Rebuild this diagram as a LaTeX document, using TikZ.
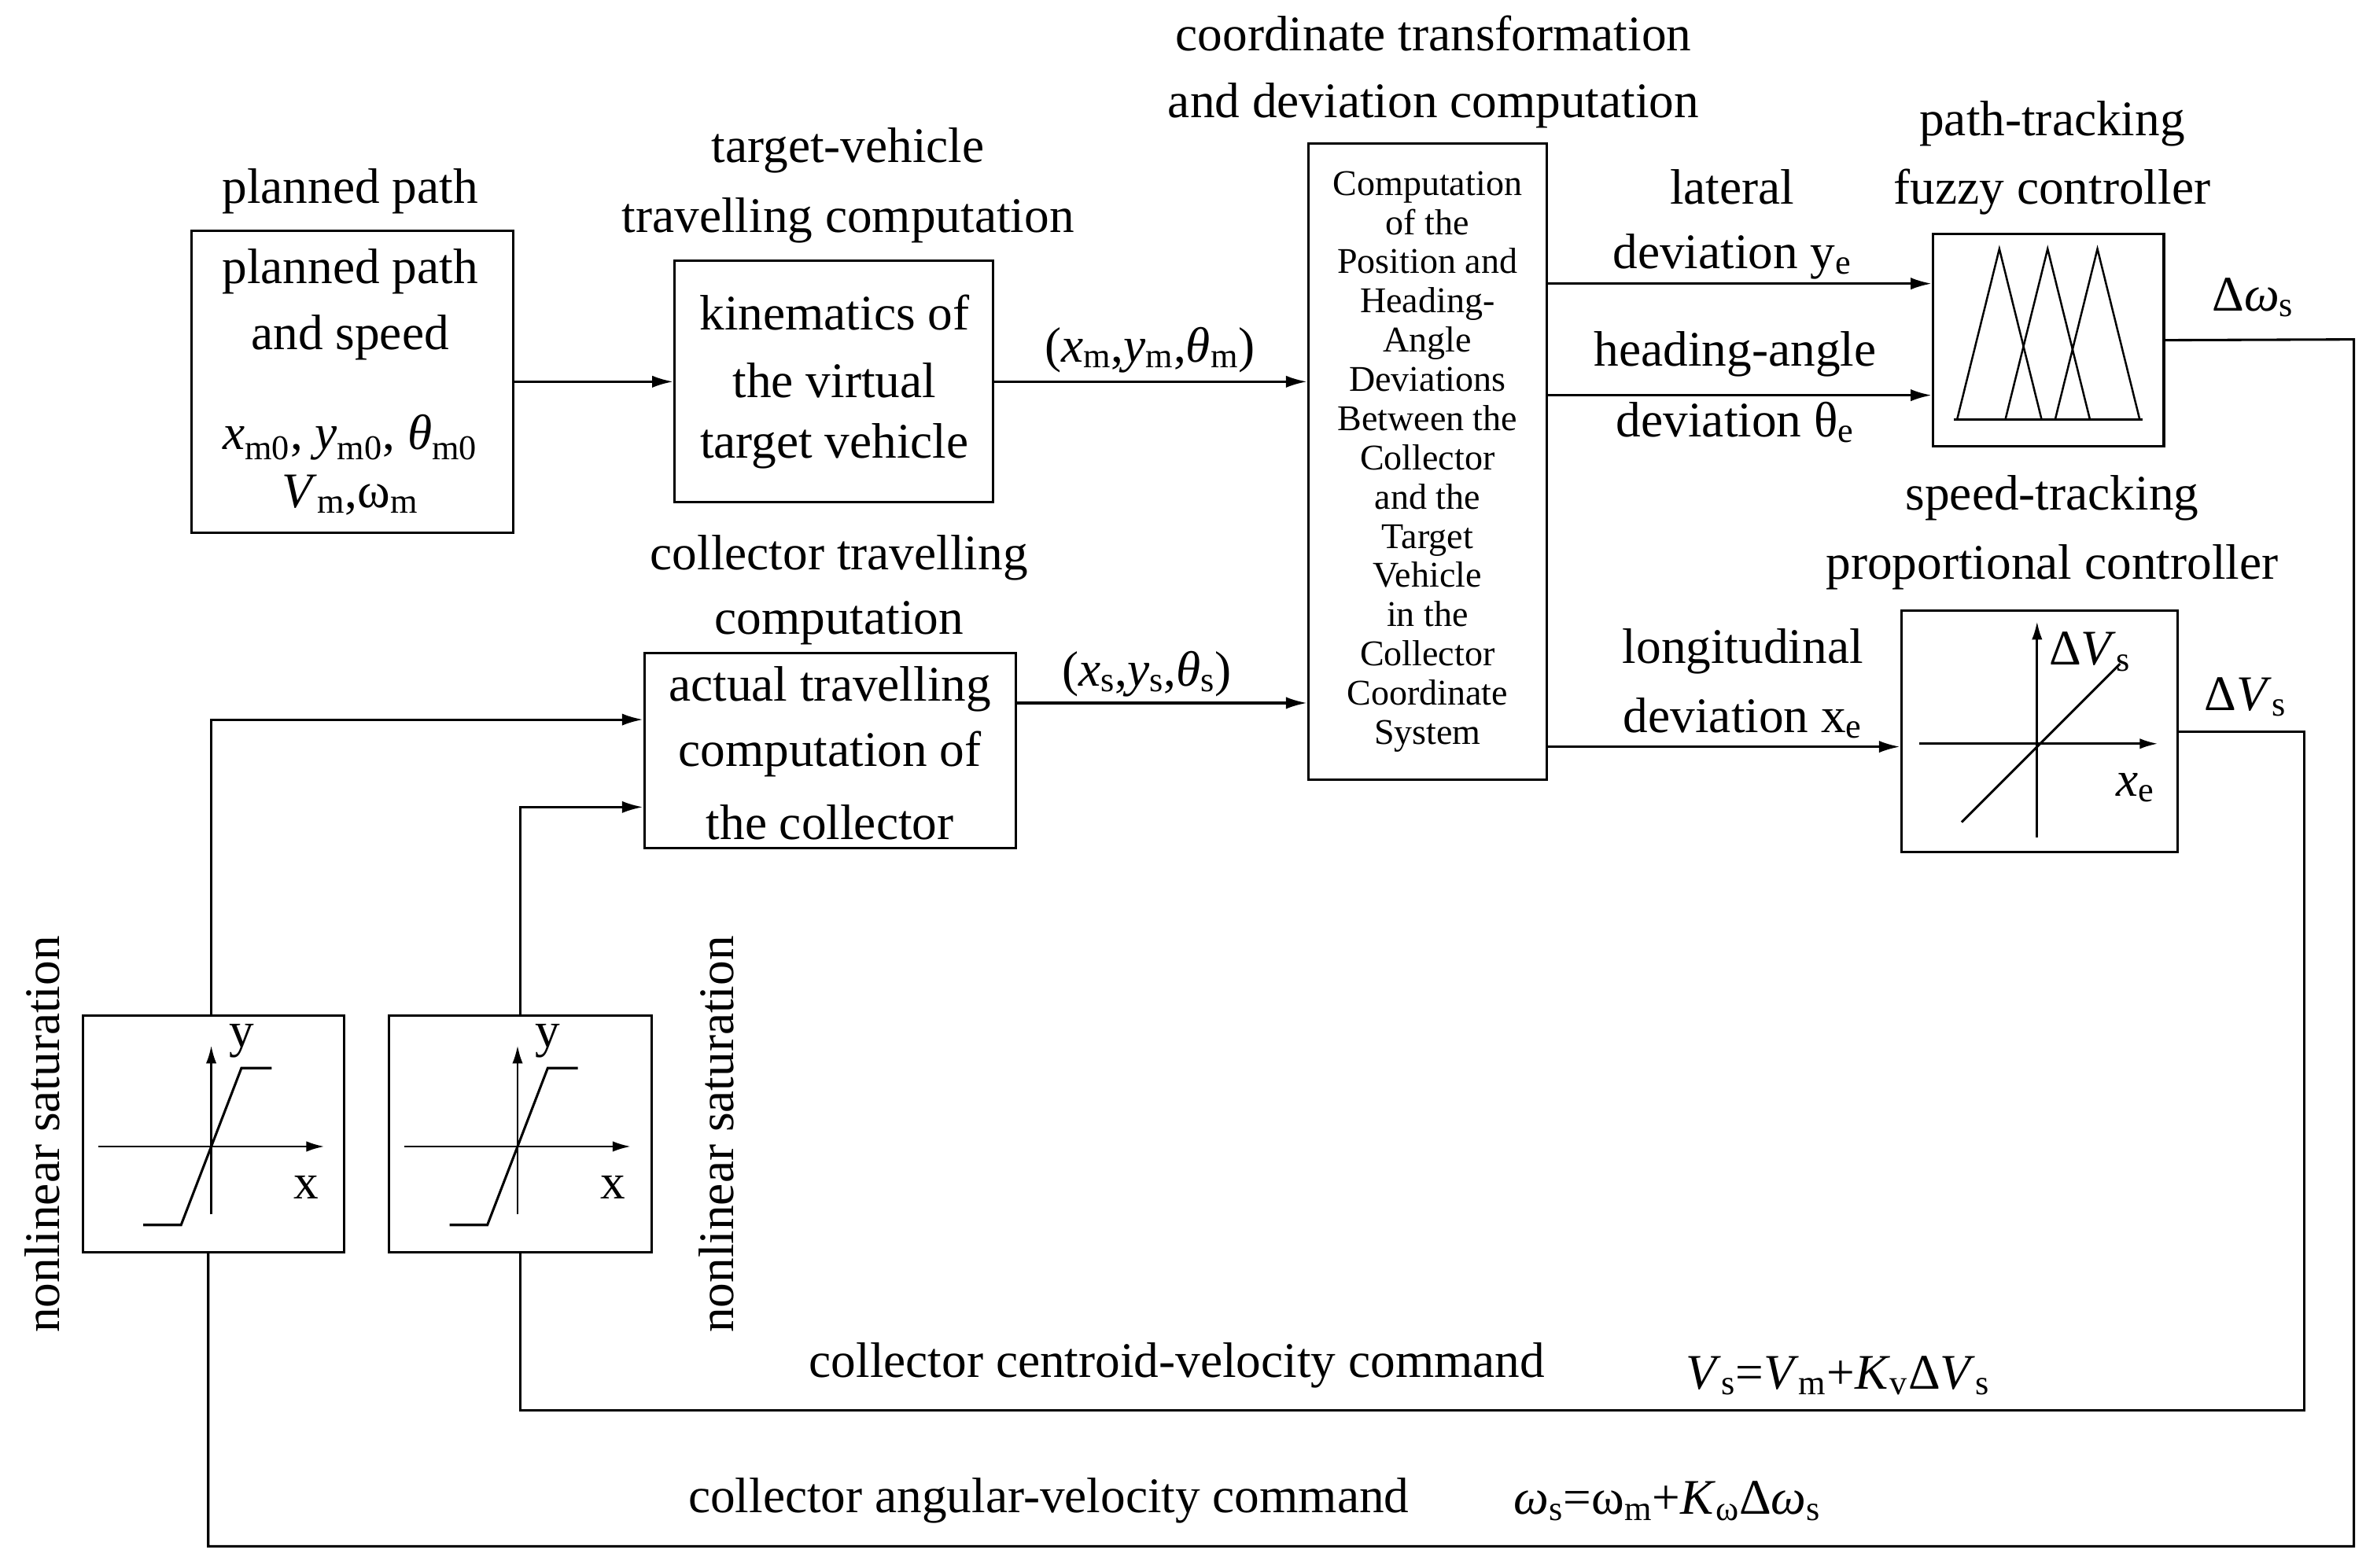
\documentclass[tikz,border=0pt]{standalone}
\usepackage{fontspec}
\setmainfont{Liberation Serif}
\usetikzlibrary{arrows.meta}
\newcommand{\lo}[1]{\textsubscript{#1}}
\begin{document}
\begin{tikzpicture}[x=1pt,y=-1pt,
  box/.style={draw,line width=1.6pt,inner sep=0pt},
  ln/.style={line width=1.6pt},
  arr/.style={line width=1.6pt,-{Latex[length=14pt,width=8pt]}},
  ax/.style={line width=1.4pt,-{Latex[length=12pt,width=7pt]}},
  t/.style={font=\fontsize{33}{37}\selectfont,inner sep=0pt},
  s/.style={font=\fontsize{24}{26}\selectfont,inner sep=0pt,align=center}]
\useasboundingbox (0,0) rectangle (1568,1039);
% boxes
\node[box,minimum width=213pt,minimum height=200pt] (b1) at (233.5,253) {};
\node[box,minimum width=211pt,minimum height=160pt] (b2) at (552.5,253) {};
\node[box,minimum width=158pt,minimum height=422pt] (b3) at (946,306) {};
\node[box,minimum width=153pt,minimum height=141pt] (fz) at (1357.5,225.5) {};
\node[box,minimum width=183pt,minimum height=160pt] (sp) at (1351.5,485) {};
\node[box,minimum width=246pt,minimum height=129pt] (bc) at (550,497.5) {};
\node[box,minimum width=173pt,minimum height=157pt] (s1) at (141.5,751.5) {};
\node[box,minimum width=174pt,minimum height=157pt] (s2) at (345,751.5) {};
% titles
\node[t] at (232,127) {planned path};
\node[t] at (562,100) {target-vehicle};
\node[t] at (562,146) {travelling computation};
\node[t] at (950,22) {coordinate transformation};
\node[t] at (950,70) {and deviation computation};
\node[t] at (1360,82) {path-tracking};
\node[t] at (1360,127) {fuzzy controller};
\node[t] at (1360,330) {speed-tracking};
\node[t] at (1360,376) {proportional controller};
\node[t] at (556,370) {collector travelling};
\node[t] at (556,413) {computation};
% box texts
\node[t] at (232,180) {planned path};
\node[t] at (232,224) {and speed};
\node[t] at (232,290) {\textit{x}\lo{m0}, \textit{y}\lo{m0}, \textit{θ}\lo{m0}};
\node[t] at (232,328) {\textit{V}\lo{m},ω\lo{m}};
\node[t] at (553,207) {kinematics of};
\node[t] at (553,252) {the virtual};
\node[t] at (553,296) {target vehicle};
\node[t] at (550,457) {actual travelling};
\node[t] at (550,500) {computation of};
\node[t] at (550,545) {the collector};
\node[s] at (946,306) {Computation\\of the\\Position and\\Heading-\\Angle\\Deviations\\Between the\\Collector\\and the\\Target\\Vehicle\\in the\\Collector\\Coordinate\\System};
% connectors
\draw[arr] (b1.east) -- (b2.west);
\draw[arr] (b2.east) -- (b2.east -| b3.west);
\draw[arr] (bc.east |- 0,466) -- (b3.west |- 0,466);
\draw[arr] (b3.east |- 0,188) -- (fz.west |- 0,188);
\draw[arr] (b3.east |- 0,262) -- (fz.west |- 0,262);
\draw[arr] (b3.east |- 0,495) -- (sp.west |- 0,495);
\node[t] at (762,232) {(\textit{x}\lo{m},\textit{y}\lo{m},\textit{θ}\lo{m})};
\node[t] at (760,447) {(\textit{x}\lo{s},\textit{y}\lo{s},\textit{θ}\lo{s})};
\node[t] at (1148,124) {lateral};
\node[t] at (1148,170) {deviation y\lo{e}};
\node[t] at (1150,235) {heading-angle};
\node[t] at (1150,280) {deviation θ\lo{e}};
\node[t] at (1155,432) {longitudinal};
\node[t] at (1155,476) {deviation x\lo{e}};
\node[t] at (1493,197) {Δ\textit{ω}\lo{s}};
\node[t] at (1488,462) {Δ\textit{V}\lo{s}};
% feedback
\coordinate (c1) at (1560,225);
\coordinate (c2) at (1560,1025);
\coordinate (c3) at (138,1025);
\draw[ln] (fz.east) -- (c1) -- (c2) -- (c3) -- (s1.south -| c3);
\coordinate (d1) at (1527,485);
\coordinate (d2) at (1527,935);
\coordinate (d3) at (345,935);
\draw[ln] (sp.east) -- (d1) -- (d2) -- (d3) -- (s2.south);
\coordinate (e1) at (140,477);
\draw[arr] (s1.north -| e1) -- (e1) -- (e1 -| bc.west);
\coordinate (e2) at (345,535);
\draw[arr] (s2.north) -- (e2) -- (e2 -| bc.west);
\node[t] at (780,905) {collector centroid-velocity command};
\node[t] at (1218,912) {\textit{V}\lo{s}=\textit{V}\lo{m}+\textit{K}\lo{v}Δ\textit{V}\lo{s}};
\node[t] at (695,995) {collector angular-velocity command};
\node[t] at (1105,995) {\textit{ω}\lo{s}=ω\lo{m}+\textit{K}\lo{ω}Δ\textit{ω}\lo{s}};
\node[t,rotate=90] at (28,752) {nonlinear saturation};
\node[t,rotate=90] at (475,752) {nonlinear saturation};
% saturation plots
\foreach \dx in {0,203}{
  \begin{scope}[xshift=\dx pt]
  \draw[ax] (65,760) -- (215,760);
  \draw[ax] (140,805) -- (140,693);
  \draw[ln] (95,812) -- (120,812) -- (160,708) -- (180,708);
  \node[t] at (160,690) {y};
  \node[t] at (203,787) {x};
  \end{scope}}
% fuzzy triangles
\foreach \p in {1325,1357,1390}{\draw[line width=1.3pt] (\p-28,278) -- (\p,165) -- (\p+28,278);}
\draw[line width=1.3pt] (1295,278) -- (1420,278);
% proportional
\draw[ax] (1272,493) -- (1430,493);
\draw[ax] (1350,555) -- (1350,412);
\draw[ln] (1300,545) -- (1405,440);
\node[t] at (1385,432) {Δ\textit{V}\lo{s}};
\node[t] at (1415,522) {\textit{x}\lo{e}};
\end{tikzpicture}
\end{document}
